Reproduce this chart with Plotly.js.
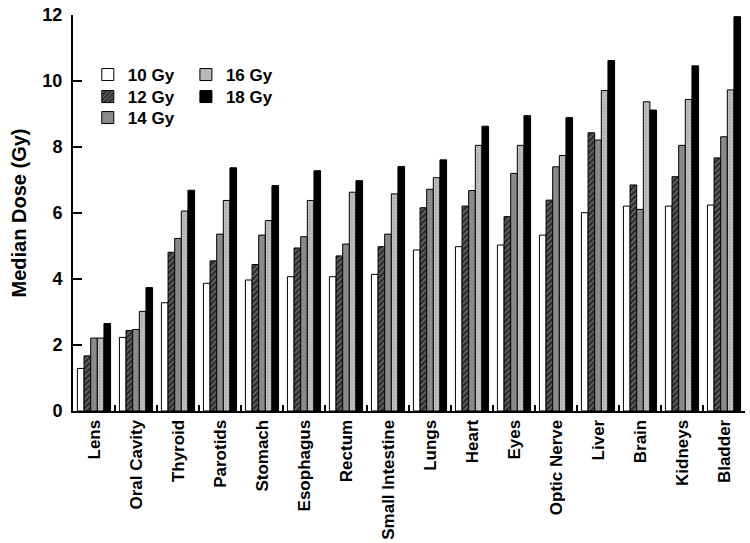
<!DOCTYPE html>
<html>
<head>
<meta charset="utf-8">
<script src="https://cdn.plot.ly/plotly-3.0.1.min.js"></script>
<style>html,body{margin:0;padding:0;background:#fff}#chart{width:750px;height:543px}</style>
</head>
<body>
<div id="chart"></div>
<script>
var organs = ["Lens","Oral Cavity","Thyroid","Parotids","Stomach","Esophagus","Rectum","Small Intestine","Lungs","Heart","Eyes","Optic Nerve","Liver","Brain","Kidneys","Bladder"];
var gy10 = [1.29,2.23,3.28,3.87,3.97,4.07,4.07,4.14,4.88,4.98,5.03,5.33,6.01,6.21,6.21,6.24];
var gy12 = [1.67,2.44,4.81,4.55,4.44,4.94,4.70,4.98,6.16,6.21,5.89,6.39,8.43,6.85,7.10,7.67];
var gy14 = [2.21,2.47,5.23,5.36,5.33,5.28,5.06,5.36,6.72,6.68,7.20,7.40,8.21,6.11,8.05,8.31];
var gy16 = [2.21,3.02,6.06,6.38,5.77,6.38,6.63,6.58,7.07,8.05,8.05,7.74,9.71,9.37,9.44,9.73];
var gy18 = [2.65,3.74,6.69,7.37,6.83,7.28,6.98,7.41,7.61,8.63,8.95,8.89,10.62,9.12,10.46,11.95];
var seriesNames = ["10 Gy","12 Gy","14 Gy","16 Gy","18 Gy"];

var FONT = "Liberation Sans, Arial, sans-serif";
var line = {color:"#000", width:1};
var traces = [
  {name:seriesNames[0], y:gy10, legend:"legend", marker:{color:"#ffffff", line:line}},
  {name:seriesNames[1], y:gy12, legend:"legend2", marker:{color:"#3a3a3a", line:line, pattern:{shape:"/", bgcolor:"#2e2e2e", fgcolor:"#bdbdbd", size:4, solidity:0.3, fillmode:"overlay"}}},
  {name:seriesNames[2], y:gy14, legend:"legend3", marker:{color:"#8a8a8a", line:line}},
  {name:seriesNames[3], y:gy16, legend:"legend4", marker:{color:"#b0b0b0", line:line, pattern:{shape:"+", bgcolor:"#b0b0b0", fgcolor:"#e6e6e6", size:3, solidity:0.3, fillmode:"overlay"}}},
  {name:seriesNames[4], y:gy18, legend:"legend5", marker:{color:"#000000", line:line}}
].map(function(t){ t.type="bar"; t.x=organs; return t; });

var legendFont = {family:FONT, size:17, color:"#000", weight:700};
function leg(x, y){ return {x:x, y:y, xanchor:"left", yanchor:"middle", font:legendFont, bgcolor:"rgba(0,0,0,0)", borderwidth:0}; }
var col1 = 0.022, col2 = 0.168;
var row1 = 0.8485, row2 = 0.7929, row3 = 0.7399;

var layout = {
  width:750, height:543,
  margin:{l:73, r:5, t:15, b:132},
  paper_bgcolor:"#fff", plot_bgcolor:"#fff",
  barmode:"group", bargap:0.21, bargroupgap:0,
  font:{family:FONT, color:"#000"},
  xaxis:{
    type:"category", showline:true, linecolor:"#000", linewidth:2,
    ticks:"inside", tickson:"boundaries", ticklen:6, tickwidth:2, tickcolor:"#000",
    tickangle:-90, tickfont:{family:FONT, size:17, color:"#000", weight:700},
    showgrid:false, zeroline:false, fixedrange:true
  },
  yaxis:{
    range:[0,12], tickvals:[0,2,4,6,8,10,12],
    showline:true, linecolor:"#000", linewidth:2,
    ticks:"inside", ticklen:9, tickwidth:2, tickcolor:"#000",
    ticklabelstandoff:5,
    tickfont:{family:FONT, size:18, color:"#000", weight:700},
    showgrid:false, zeroline:false,
    title:{text:"Median Dose (Gy)", font:{family:FONT, size:20, color:"#000", weight:700}, standoff:10}
  },
  showlegend:true,
  legend:leg(col1,row1),
  legend2:leg(col1,row2),
  legend3:leg(col1,row3),
  legend4:leg(col2,row1),
  legend5:leg(col2,row2)
};
Plotly.newPlot("chart", traces, layout, {displayModeBar:false, staticPlot:true});
</script>
</body>
</html>
